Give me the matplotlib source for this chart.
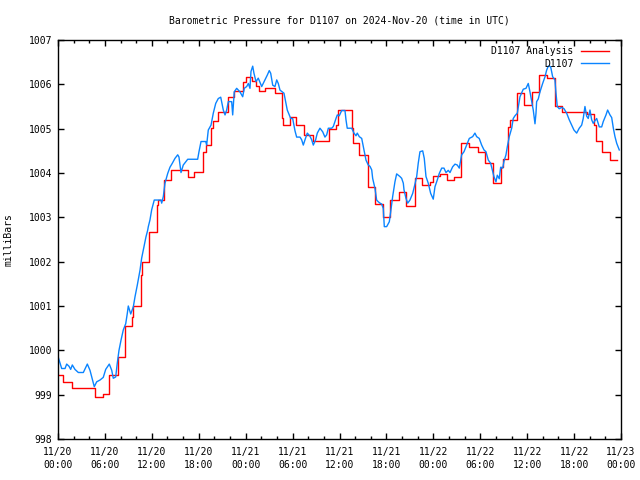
#!/usr/bin/env python3

import numpy as np
import pandas as pd
import matplotlib
matplotlib.use("Agg")
import matplotlib.pyplot as plt
import matplotlib.dates as mdates


# ==================================================
# Data (hours after 2024-11-20 00:00 UTC, millibars)
# ==================================================

start = pd.Timestamp("2024-11-20 00:00")

# D1107 Analysis (stepped)
ana_hours = [
    0.0, 0.68, 1.75, 3.6, 4.73, 5.7, 6.56, 7.7, 8.57, 9.5,
    9.6, 10.6, 10.7, 11.7, 12.6, 12.8, 13.5, 14.5, 16.6, 17.35,
    18.6, 18.9, 19.6, 19.8, 20.5, 21.7, 22.5, 23.7, 24.0, 24.8,
    25.3, 25.74, 26.5, 27.7, 28.6, 28.8, 29.7, 30.5, 31.5, 32.6,
    34.6, 35.6, 35.8, 37.56, 37.77, 38.5, 39.6, 40.5, 41.6, 42.5,
    43.6, 44.5, 45.65, 46.6, 47.6, 48.0, 48.9, 49.7, 50.6, 51.6,
    52.6, 53.7, 54.6, 55.6, 56.6, 56.85, 57.6, 57.8, 58.7, 59.6,
    60.6, 61.5, 62.6, 63.6, 64.5, 67.6, 68.5, 68.75, 69.6, 70.6,
    71.5,
]
ana_mb = [
    999.44, 999.29, 999.14, 999.16, 998.94, 999.01, 999.44, 999.84, 1000.55, 1000.76,
    1001.00, 1001.70, 1001.99, 1002.68, 1003.28, 1003.39, 1003.84, 1004.07, 1003.92, 1004.02,
    1004.48, 1004.63, 1005.01, 1005.17, 1005.38, 1005.71, 1005.85, 1006.06, 1006.16, 1006.08,
    1005.96, 1005.85, 1005.91, 1005.80, 1005.23, 1005.08, 1005.26, 1005.08, 1004.86, 1004.73,
    1004.99, 1005.08, 1005.41, 1005.01, 1004.67, 1004.41, 1003.69, 1003.30, 1003.01, 1003.40,
    1003.58, 1003.26, 1003.88, 1003.73, 1003.80, 1003.93, 1003.98, 1003.84, 1003.92, 1004.67,
    1004.58, 1004.47, 1004.22, 1003.78, 1004.13, 1004.31, 1005.03, 1005.20, 1005.81, 1005.53,
    1005.83, 1006.21, 1006.14, 1005.51, 1005.38, 1005.33, 1005.08, 1004.73, 1004.48, 1004.29,
    1004.29,
]

# D1107 observations
obs_hours = [
    0.04, 0.47, 0.90, 1.11, 1.41, 1.62, 1.83, 2.17, 2.60, 3.24,
    3.75, 4.09, 4.64, 4.95, 5.37, 5.79, 6.10, 6.56, 6.87, 7.07,
    7.38, 7.58, 7.80, 8.06, 8.35, 8.66, 8.86, 8.99, 9.30, 9.63,
    9.85, 10.14, 10.49, 10.70, 10.91, 11.25, 11.47, 11.55, 11.76, 11.98,
    12.31, 13.17, 13.26, 13.47, 13.68, 14.03, 14.32, 14.62, 14.96, 15.31,
    15.47, 15.73, 16.02, 16.59, 17.86, 18.03, 18.29, 18.89, 19.01, 19.22,
    19.57, 19.86, 20.17, 20.50, 20.81, 20.93, 21.14, 21.36, 21.57, 21.78,
    22.21, 22.34, 22.54, 22.85, 23.27, 23.62, 23.82, 24.13, 24.34, 24.55,
    24.68, 24.90, 25.06, 25.32, 25.61, 26.05, 26.47, 26.77, 27.02, 27.20,
    27.46, 27.75, 27.97, 28.17, 28.39, 28.90, 29.16, 29.32, 29.58, 29.76,
    30.01, 30.31, 30.52, 30.95, 31.16, 31.37, 31.59, 31.88, 32.22, 32.44,
    32.65, 32.95, 33.16, 33.50, 33.85, 34.14, 34.36, 34.57, 35.00, 35.21,
    35.55, 35.72, 35.97, 36.28, 36.70, 36.83, 36.99, 37.56, 37.85, 38.11,
    38.27, 38.53, 38.84, 38.96, 39.13, 39.39, 39.68, 39.90, 40.12, 40.24,
    40.54, 40.75, 40.96, 41.18, 41.39, 41.60, 41.73, 42.03, 42.37, 42.55,
    42.80, 43.09, 43.31, 43.73, 43.95, 44.16, 44.25, 44.50, 44.72, 45.01,
    45.36, 45.65, 45.87, 46.07, 46.29, 46.64, 46.84, 47.06, 47.35, 47.66,
    47.99, 48.21, 48.50, 48.76, 49.07, 49.36, 49.62, 49.91, 50.13, 50.47,
    50.77, 51.06, 51.32, 51.62, 51.92, 52.26, 52.60, 53.03, 53.32, 53.54,
    53.87, 54.18, 54.48, 54.73, 55.03, 55.33, 55.59, 55.75, 56.01, 56.18,
    56.43, 56.61, 56.87, 57.03, 57.29, 57.46, 57.71, 58.02, 58.22, 58.44,
    58.74, 59.08, 59.50, 59.85, 60.14, 60.36, 60.58, 60.78, 61.00, 61.13,
    61.21, 61.42, 61.64, 61.98, 62.28, 62.49, 62.70, 63.00, 63.26, 63.55,
    63.68, 63.85, 64.10, 64.41, 64.71, 65.05, 65.38, 65.69, 65.98, 66.33,
    66.66, 66.97, 67.17, 67.39, 67.61, 67.81, 68.03, 68.25, 68.45, 68.67,
    68.89, 69.22, 69.53, 69.73, 70.08, 70.29, 70.59, 70.81, 71.02, 71.23,
    71.45, 71.78,
]
obs_mb = [
    999.84, 999.59, 999.59, 999.69, 999.64, 999.57, 999.67, 999.57, 999.50, 999.50,
    999.69, 999.55, 999.18, 999.29, 999.33, 999.39, 999.57, 999.69, 999.55, 999.37,
    999.40, 999.71, 1000.00, 1000.23, 1000.46, 1000.60, 1000.83, 1001.00, 1000.82, 1000.98,
    1001.21, 1001.47, 1001.81, 1002.08, 1002.26, 1002.56, 1002.71, 1002.79, 1002.94, 1003.17,
    1003.39, 1003.39, 1003.32, 1003.47, 1003.77, 1003.99, 1004.13, 1004.22, 1004.33, 1004.41,
    1004.36, 1004.01, 1004.18, 1004.31, 1004.31, 1004.48, 1004.71, 1004.71, 1004.63, 1004.97,
    1005.08, 1005.35, 1005.57, 1005.68, 1005.71, 1005.60, 1005.42, 1005.31, 1005.42, 1005.61,
    1005.61, 1005.31, 1005.83, 1005.91, 1005.83, 1005.72, 1005.91, 1005.95, 1006.02, 1005.91,
    1006.29, 1006.41, 1006.25, 1006.06, 1006.14, 1005.95, 1006.10, 1006.21, 1006.31, 1006.25,
    1005.98, 1005.95, 1006.10, 1006.02, 1005.87, 1005.80, 1005.57, 1005.42, 1005.31, 1005.23,
    1005.23, 1004.95, 1004.81, 1004.81, 1004.75, 1004.63, 1004.75, 1004.90, 1004.83, 1004.75,
    1004.63, 1004.75, 1004.90, 1005.01, 1004.93, 1004.81, 1004.86, 1005.01, 1005.01, 1005.05,
    1005.23, 1005.31, 1005.29, 1005.41, 1005.41, 1005.20, 1005.01, 1005.01, 1004.90, 1004.84,
    1004.90, 1004.82, 1004.78, 1004.67, 1004.52, 1004.29, 1004.18, 1004.15, 1004.07, 1003.88,
    1003.65, 1003.39, 1003.35, 1003.32, 1003.30, 1003.20, 1002.79, 1002.79, 1002.90, 1003.13,
    1003.47, 1003.80, 1003.98, 1003.92, 1003.88, 1003.77, 1003.62, 1003.43, 1003.32, 1003.39,
    1003.54, 1003.75, 1003.92, 1004.22, 1004.48, 1004.50, 1004.33, 1003.92, 1003.77, 1003.54,
    1003.41, 1003.69, 1003.84, 1003.99, 1004.11, 1004.11, 1004.01, 1004.06, 1004.01, 1004.14,
    1004.20, 1004.18, 1004.11, 1004.41, 1004.48, 1004.63, 1004.78, 1004.82, 1004.90, 1004.82,
    1004.78, 1004.63, 1004.52, 1004.48, 1004.29, 1004.22, 1004.03, 1003.92, 1003.80, 1003.95,
    1003.87, 1004.13, 1004.11, 1004.26, 1004.41, 1004.59, 1004.82, 1005.01, 1005.23, 1005.29,
    1005.35, 1005.72, 1005.89, 1005.91, 1006.02, 1005.83, 1005.61, 1005.42, 1005.11, 1005.35,
    1005.61, 1005.67, 1005.83, 1006.02, 1006.17, 1006.32, 1006.41, 1006.40, 1006.17, 1006.10,
    1005.81, 1005.50, 1005.45, 1005.48, 1005.45, 1005.35, 1005.20, 1005.08, 1004.97, 1004.90,
    1005.01, 1005.08, 1005.23, 1005.50, 1005.28, 1005.23, 1005.42, 1005.20, 1005.12, 1005.18,
    1005.23, 1005.04, 1005.04, 1005.16, 1005.31, 1005.42, 1005.31, 1005.25, 1005.01, 1004.82,
    1004.67, 1004.52,
]

y_ticks = [998, 999, 1000, 1001, 1002, 1003, 1004, 1005, 1006, 1007]


# ==================================================
# Plot
# ==================================================

plt.rcParams["font.family"] = ["DejaVu Sans Mono"]
plt.rcParams["font.size"] = 7

ana_t = start + pd.to_timedelta(ana_hours, unit="h")
obs_t = start + pd.to_timedelta(obs_hours, unit="h")

fig = plt.figure(figsize=(6.4, 4.8), dpi=100)
ax = fig.add_axes([58/640, 1 - 439/480, 563/640, 399/480])

ax.plot(ana_t, ana_mb, color="#ff0000", lw=1.0,
        drawstyle="steps-post", label="D1107 Analysis")
ax.plot(obs_t, obs_mb, color="#0a84ff", lw=1.0, label="D1107")

ax.set_xlim(start, start + pd.Timedelta(hours=72))
ax.set_ylim(998, 1007)
ax.set_yticks(y_ticks)

ax.xaxis.set_major_locator(mdates.HourLocator(byhour=range(0, 24, 6)))
ax.xaxis.set_minor_locator(mdates.HourLocator(byhour=range(0, 24, 2)))
ax.xaxis.set_major_formatter(mdates.DateFormatter("%m/%d\n%H:%M"))
for lab in ax.get_xticklabels():
    lab.set_linespacing(1.3)

ax.tick_params(which="both", direction="in", top=True, right=True,
               width=1.0, colors="black")
ax.tick_params(which="major", length=4.5)
ax.tick_params(which="minor", length=2.2)
ax.tick_params(axis="x", which="major", pad=6)
ax.tick_params(axis="y", which="major", pad=4)

for s in ax.spines.values():
    s.set_linewidth(1.0)

ax.set_ylabel("milliBars")
ax.yaxis.set_label_coords(-0.079, 0.5)

ax.set_title("Barometric Pressure for D1107 on 2024-Nov-20 (time in UTC)",
             fontsize=7, pad=12)

ax.legend(loc="upper right", frameon=False, markerfirst=False,
          handlelength=2.9, handletextpad=0.8, labelspacing=0.27,
          borderpad=0, borderaxespad=0,
          bbox_to_anchor=(1 - 11.7/563, 1 - 6/399))

fig.savefig("out.png", dpi=100)
plt.close(fig)
